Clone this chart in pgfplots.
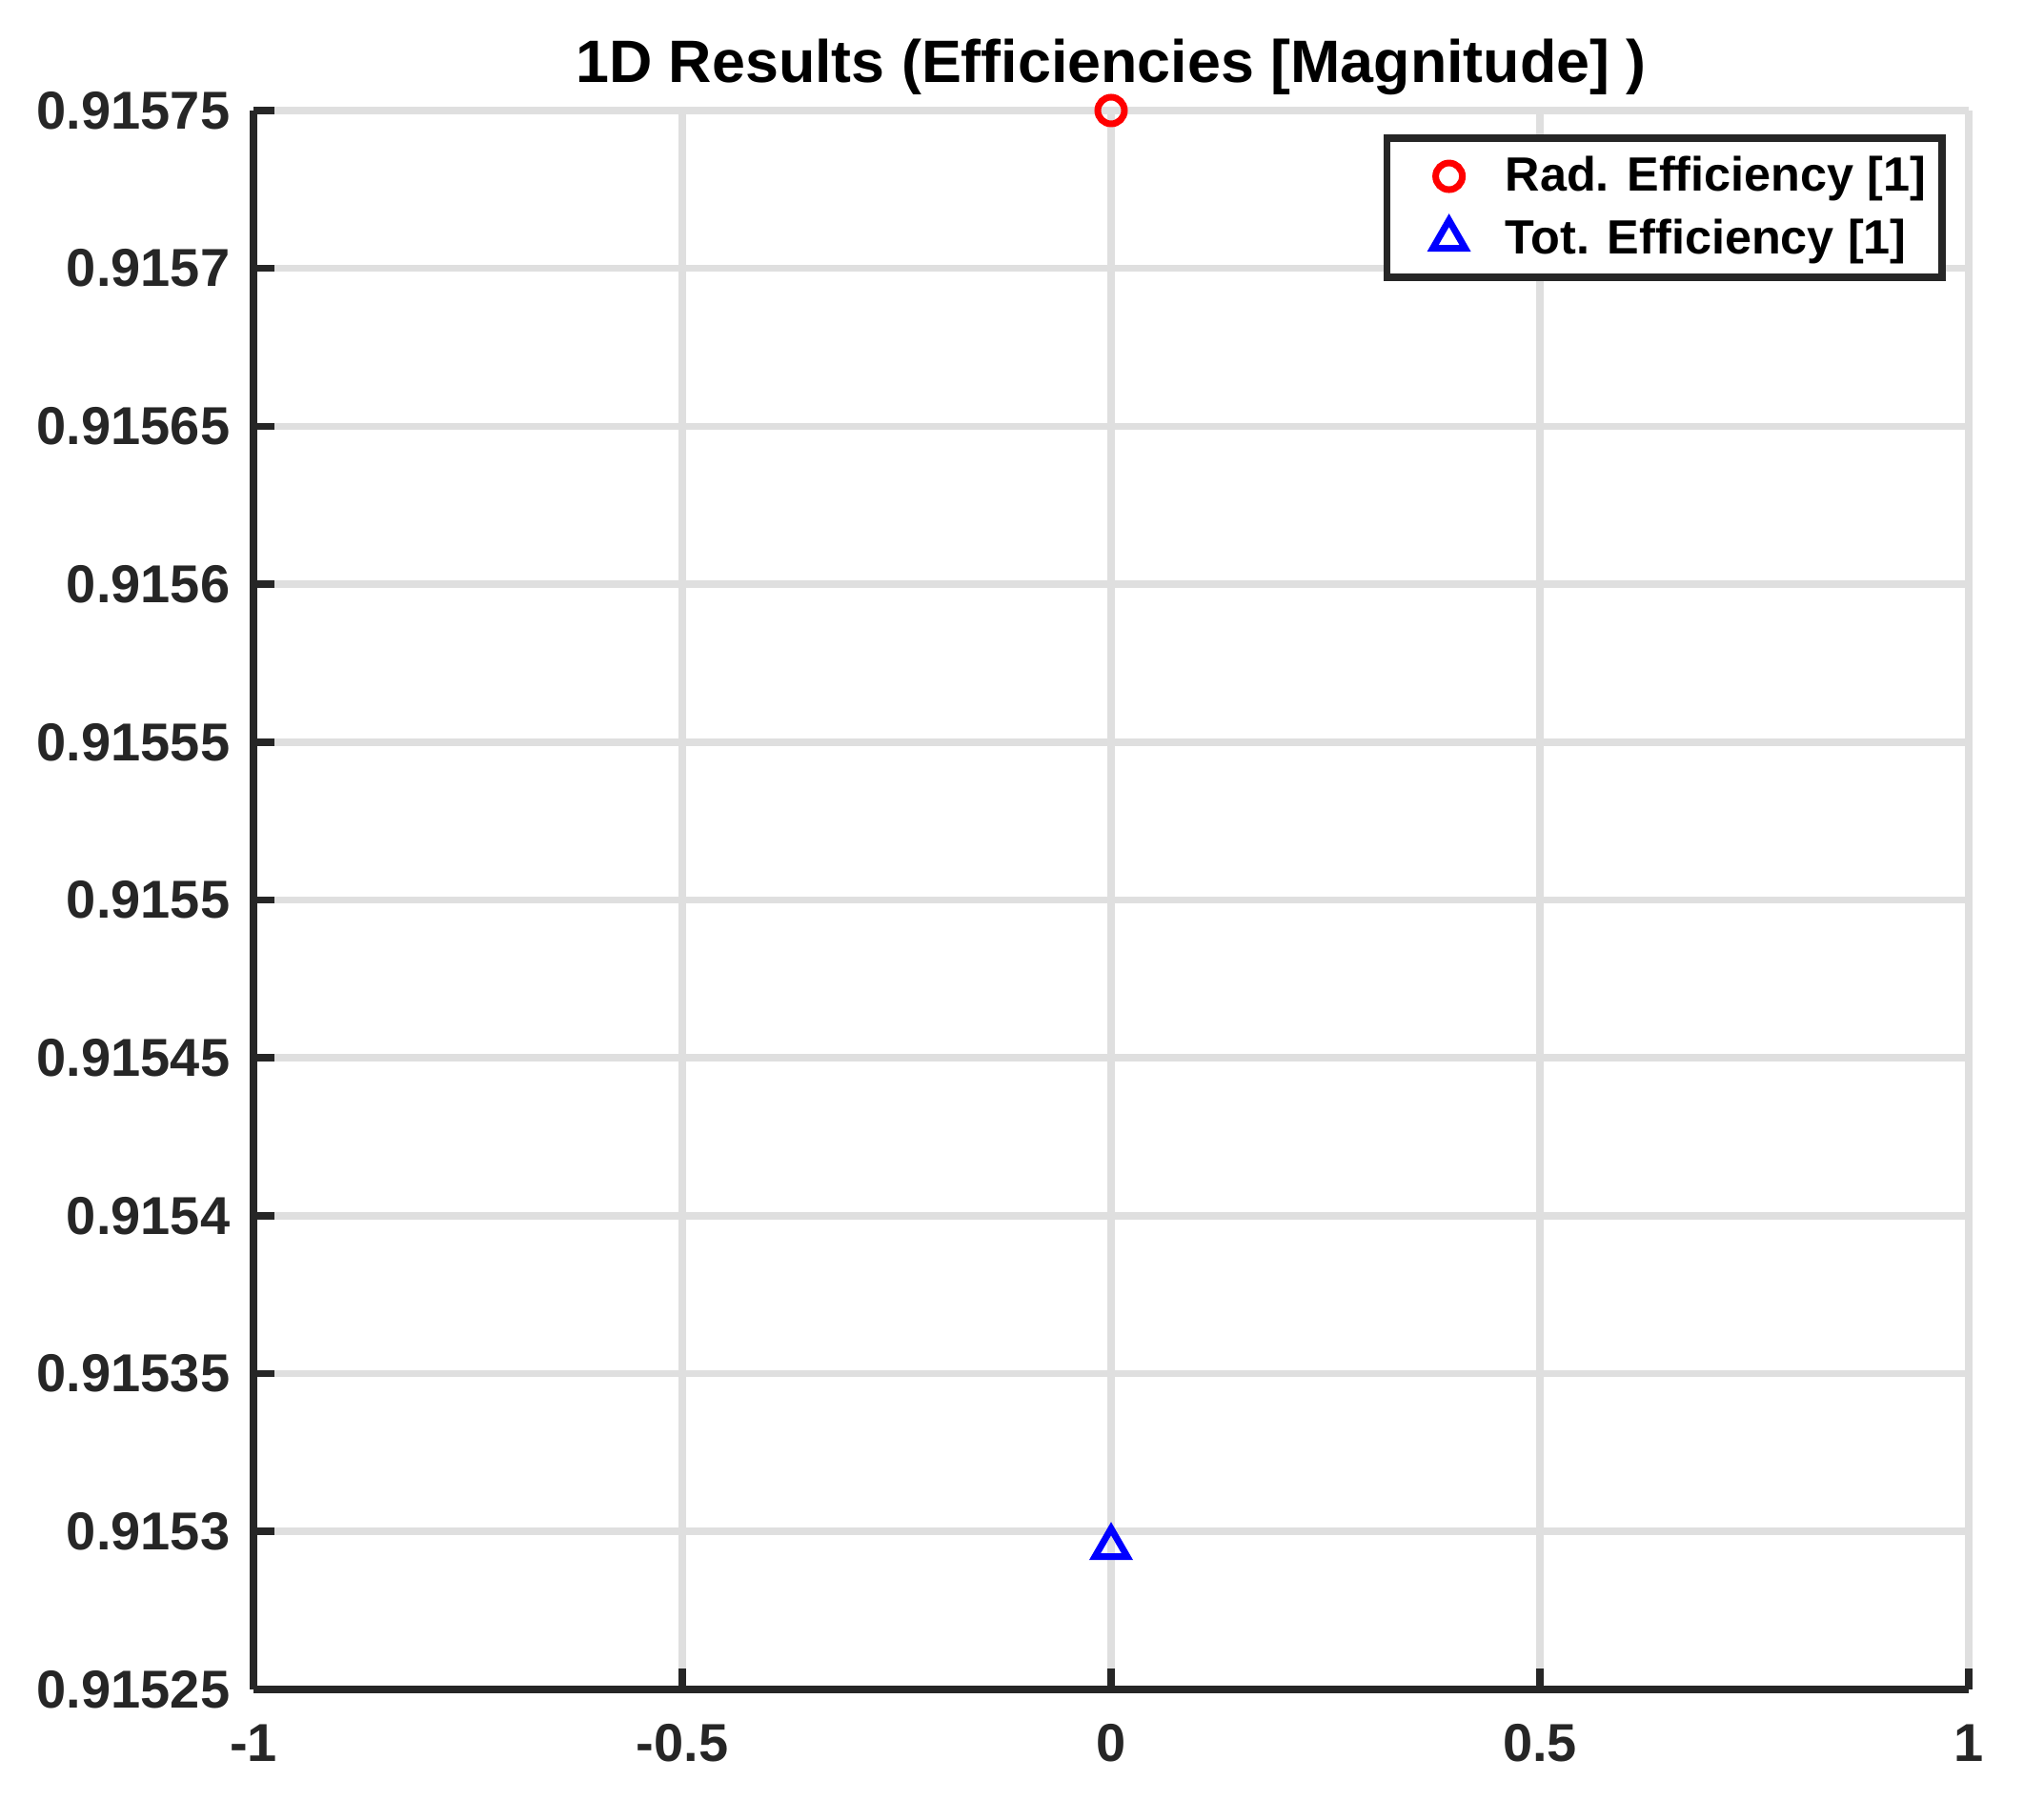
\documentclass[border=0pt]{standalone}
\usepackage{pgfplots}
\pgfplotsset{compat=1.18}
\usepackage{fontspec}
\setmainfont{Liberation Sans}
\definecolor{axisgray}{HTML}{262626}
\definecolor{gridgray}{HTML}{DFDFDF}

\begin{document}
\begin{tikzpicture}
\begin{axis}[
  scale only axis,
  width=450pt, height=414.25pt,
  xmin=-1, xmax=1,
  ymin=0.91525, ymax=0.91575,
  xtick={-1,-0.5,0,0.5,1},
  xticklabels={-1,-0.5,0,0.5,1},
  ytick={0.91525,0.9153,0.91535,0.9154,0.91545,0.9155,0.91555,0.9156,0.91565,0.9157,0.91575},
  yticklabels={0.91525,0.9153,0.91535,0.9154,0.91545,0.9155,0.91555,0.9156,0.91565,0.9157,0.91575},
  axis lines=left,
  axis line style={-, axisgray, line width=1.9pt},
  tick align=inside,
  major tick length=5.5pt,
  tick style={axisgray, line width=1.9pt},
  grid=major,
  major grid style={gridgray, line width=1.9pt},
  /pgf/number format/assume math mode=true,
  ticklabel style={font=\fontsize{14}{16}\selectfont\bfseries, text=axisgray},
  xticklabel style={anchor=north, inner sep=0pt, yshift=-9pt},
  yticklabel style={anchor=east, inner sep=0pt, xshift=-6pt},
  title={1D Results (Efficiencies [Magnitude] )},
  every axis title shift=0pt,
  title style={font=\fontsize{15.7}{17}\selectfont\bfseries, at={(0.5,1)}, anchor=base, yshift=7.25pt},
  legend style={
    at={(1,1)}, anchor=north east, xshift=-6pt, yshift=-6.3pt,
    draw=axisgray, line width=1.9pt,
    font=\fontsize{12.6}{14}\selectfont\bfseries,
    inner xsep=2pt, inner ysep=1.8pt,
    nodes={inner ysep=2.9pt, inner xsep=2.25pt},
    cells={anchor=west},
  },
  legend image code/.code={\path[draw=none] (0pt,0pt) -- (26.8pt,0pt);
    \draw[#1] plot coordinates {(14.3pt,0pt)};},
  clip=false,
]
\addplot[only marks, mark=o, mark size=3.5pt, red, line width=1.75pt]
  coordinates {(0,0.91575)};
\addlegendentry{Rad. Efficiency [1]}
\addplot[only marks, mark=triangle, mark size=4.9pt, blue, line width=1.75pt]
  coordinates {(0,0.915295)};
\addlegendentry{Tot. Efficiency [1]}
% page margins as in the reference
\path (rel axis cs:0,0) ++(-66.5pt,-34.25pt);
\path (rel axis cs:1,1) ++(14.5pt,29pt);
\end{axis}
\end{tikzpicture}
\end{document}
